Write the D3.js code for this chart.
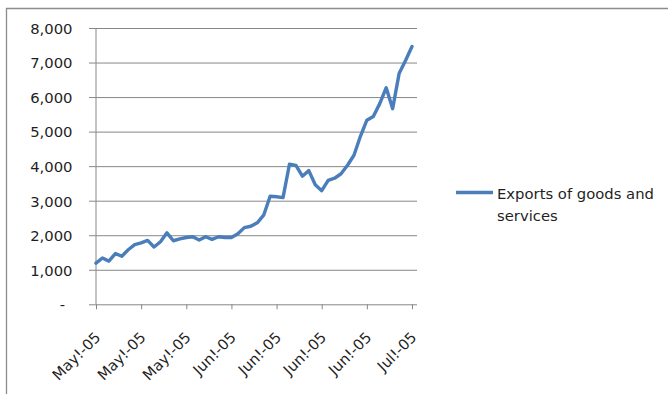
<!DOCTYPE html>
<html>
<head>
<meta charset="utf-8">
<script src="https://cdn.jsdelivr.net/npm/d3@7/dist/d3.min.js"></script>
<style>
  html, body { margin: 0; padding: 0; background: #ffffff; }
  svg { display: block; }
  text { font-family: "DejaVu Sans", Verdana, sans-serif; fill: #1f1f1f; }
</style>
</head>
<body>
<script>
// Export observations, one per business-day period
const seriesName = "Exports of goods and services";
const exportsValues = [
  1190, 1340, 1250, 1470, 1390, 1580, 1730, 1780, 1850, 1660,
  1810, 2070, 1840, 1895, 1935, 1955, 1860, 1955, 1880, 1955,
  1935, 1935, 2040, 2220, 2260, 2360, 2580, 3130, 3115, 3090,
  4055, 4020, 3710, 3870, 3460, 3290, 3590, 3650, 3780, 4025,
  4315, 4865, 5330, 5440, 5810, 6270, 5665, 6680, 7060, 7465
];
const tickLabels = ["May!-05", "May!-05", "May!-05", "Jun!-05", "Jun!-05", "Jun!-05", "Jun!-05", "Jul!-05"];
const labelEvery = 7;
const yTicks = [0, 1000, 2000, 3000, 4000, 5000, 6000, 7000, 8000];

const W = 668, H = 394;
const plot = { left: 96, right: 417, top: 28, bottom: 304.3 };
const lineColor = "#4a7ebb";
const gridColor = "#878787";
const fontSize = "14.8px";

const svg = d3.select("body").append("svg")
  .attr("width", W).attr("height", H);

// outer chart frame
svg.append("path")
  .attr("d", `M6.5,${H} V8.5 H${W}`)
  .attr("fill", "none")
  .attr("stroke", "#8c8c8c")
  .attr("stroke-width", 1.3);

const x = d3.scaleLinear()
  .domain([0, exportsValues.length - 1])
  .range([plot.left, 412]);

const y = d3.scaleLinear()
  .domain([0, 8000])
  .range([plot.bottom, plot.top]);

// horizontal gridlines with short tick stubs left of the axis
const yAxis = d3.axisLeft(y)
  .tickValues(yTicks)
  .tickSize(-(plot.right - plot.left))
  .tickPadding(23.5)
  .tickFormat(d => d === 0 ? "-" : d3.format(",")(d));

const gy = svg.append("g")
  .attr("transform", `translate(${plot.left},0)`)
  .call(yAxis);
gy.select(".domain").remove();
gy.selectAll(".tick line")
  .attr("x1", -7)
  .attr("stroke", gridColor)
  .attr("stroke-width", 1);
gy.selectAll(".tick text")
  .attr("font-size", fontSize)
  .attr("fill", "#1f1f1f")
  .attr("dy", "0.36em")
  .attr("dx", d => d === 0 ? -7.5 : 0);

// vertical value axis line
svg.append("line")
  .attr("x1", plot.left).attr("x2", plot.left)
  .attr("y1", plot.top).attr("y2", plot.bottom)
  .attr("stroke", gridColor).attr("stroke-width", 1);

// category axis ticks and rotated labels
const tickIdx = tickLabels.map((_, i) => i * labelEvery);
const xAxis = d3.axisBottom(x)
  .tickValues(tickIdx)
  .tickSize(5)
  .tickSizeOuter(0)
  .tickFormat((d, i) => tickLabels[i]);

const gx = svg.append("g")
  .attr("transform", `translate(0,${plot.bottom})`)
  .call(xAxis);
gx.select(".domain").remove();
gx.selectAll(".tick line").attr("stroke", gridColor);
gx.selectAll(".tick text")
  .attr("font-size", fontSize)
  .attr("fill", "#1f1f1f")
  .attr("text-anchor", "end")
  .attr("y", 0).attr("dy", 0)
  .attr("transform", "translate(5,34) rotate(-45)");

// the series line
const line = d3.line()
  .x((d, i) => x(i))
  .y(d => y(d));

svg.append("path")
  .datum(exportsValues)
  .attr("d", line)
  .attr("fill", "none")
  .attr("stroke", lineColor)
  .attr("stroke-width", 3.4)
  .attr("stroke-linejoin", "round")
  .attr("stroke-linecap", "round");

// legend
const lg = svg.append("g").attr("class", "legend");
lg.append("line")
  .attr("x1", 456).attr("x2", 493)
  .attr("y1", 192.5).attr("y2", 192.5)
  .attr("stroke", lineColor)
  .attr("stroke-width", 3.4);
const lt = lg.append("text")
  .attr("x", 497).attr("y", 198.5)
  .attr("font-size", fontSize);
lt.append("tspan").attr("x", 497).attr("dy", 0).text("Exports of goods and");
lt.append("tspan").attr("x", 497).attr("dy", 22).text(seriesName.replace("Exports of goods and ", ""));
</script>
</body>
</html>
